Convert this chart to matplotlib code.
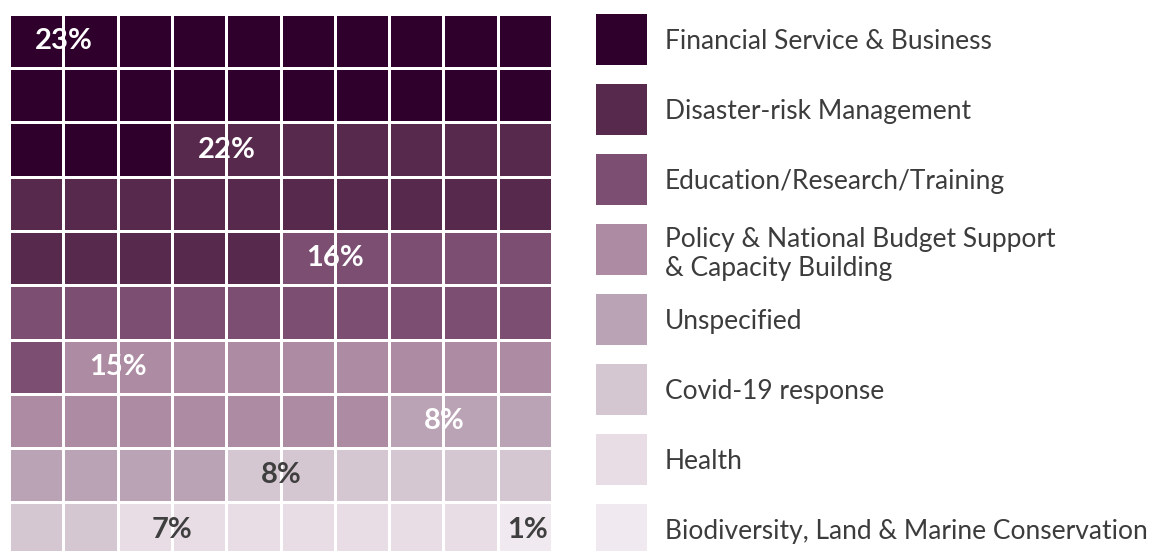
import matplotlib
matplotlib.use("Agg")
import matplotlib.pyplot as plt
from matplotlib.patches import Rectangle

plt.rcParams['font.family'] = ['Lato', 'DejaVu Sans']

# Data: share of funding by sector (one waffle cell = 1%)
categories = [
    "Financial Service & Business",
    "Disaster-risk Management",
    "Education/Research/Training",
    "Policy & National Budget Support\n& Capacity Building",
    "Unspecified",
    "Covid-19 response",
    "Health",
    "Biodiversity, Land & Marine Conservation",
]
cells = [23, 22, 16, 16, 7, 8, 7, 1]          # cells drawn in the waffle
shown_pct = [23, 22, 16, 15, 8, 8, 7, 1]      # percentages printed on it
colors = ['#2e002b', '#572a4d', '#7b4e72', '#ad8ca3',
          '#baa3b5', '#d5c7d2', '#e8dde5', '#f0e9ef']
label_colors = ['white'] * 5 + ['#3f3f3f'] * 3

W, H = 1152, 551
fig = plt.figure(figsize=(W / 100, H / 100), dpi=100)

# waffle grid, 10 x 10, in cell units
pitch = 54.3
gap = 3.0
size = 1 - gap / pitch
ax = fig.add_axes([11 / W, 1 - (15.7 + 10 * pitch) / H, 10 * pitch / W, 10 * pitch / H])
ax.set_xlim(0, 10)
ax.set_ylim(10, 0)
ax.axis('off')

start = 0
for k, n in enumerate(cells):
    for j in range(n):
        r, c = divmod(start + j, 10)
        ax.add_patch(Rectangle((c, r), size, size, facecolor=colors[k], lw=0))
    r, c = divmod(start, 10)
    lx = c + 1 - (1 - size) / 2 if n > 1 else c + 0.52
    ax.text(lx, r + size / 2 - 0.005, f"{shown_pct[k]}%", color=label_colors[k],
            fontsize=21, fontweight='bold', ha='center', va='center')
    start += n

# legend
slot = 70
lax = fig.add_axes([596 / W, 1 - (14 + 8 * slot) / H, 556 / W, 8 * slot / H])
lax.set_xlim(0, 556)
lax.set_ylim(8 * slot, 0)
lax.axis('off')
for i, (name, col) in enumerate(zip(categories, colors)):
    lax.add_patch(Rectangle((0, i * slot), 51, 51, facecolor=col, lw=0))
    dy = 30 if "\n" in name else 27
    lax.text(69, i * slot + dy, name, fontsize=19, color='#3c3c3c',
             ha='left', va='center', linespacing=1.2)

fig.savefig("out.png", dpi=100)
